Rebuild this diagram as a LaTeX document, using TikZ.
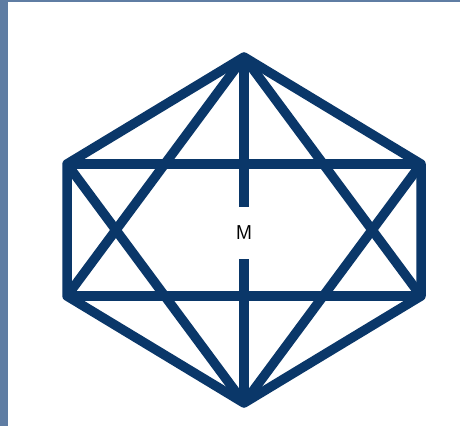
\documentclass[tikz,border=0pt]{standalone}
\begin{document}
\begin{tikzpicture}[x=1pt,y=-1pt,
  navy/.style={draw=starblue,line width=9.5pt,line join=round},
  lbl/.style={font=\sffamily\fontsize{20}{20}\selectfont,inner sep=0pt,minimum height=52pt,minimum width=20pt}]
\definecolor{starblue}{RGB}{10,55,105}
\definecolor{frameblue}{RGB}{95,125,163}
\useasboundingbox (0,0) rectangle (460,426);
\fill[white] (0,0) rectangle (460,426);
\fill[frameblue] (0,0) rectangle (8,426);
\fill[frameblue] (0,0) rectangle (460,1.5);
\coordinate (T) at (244,57);
\coordinate (TL) at (67,164);
\coordinate (BL) at (67,296);
\coordinate (B) at (244,403);
\coordinate (BR) at (421,296);
\coordinate (TR) at (421,164);
\node[lbl] (m) at (244,233) {M};
\draw[navy] (T) -- (TL) -- (BL) -- (B) -- (BR) -- (TR) -- cycle;
\draw[navy] (TL) -- (TR);
\draw[navy] (BL) -- (BR);
\draw[navy] (T) -- (BL);
\draw[navy] (T) -- (BR);
\draw[navy] (B) -- (TL);
\draw[navy] (B) -- (TR);
\draw[navy] (T) -- (m);
\draw[navy] (m) -- (B);
\end{tikzpicture}
\end{document}
